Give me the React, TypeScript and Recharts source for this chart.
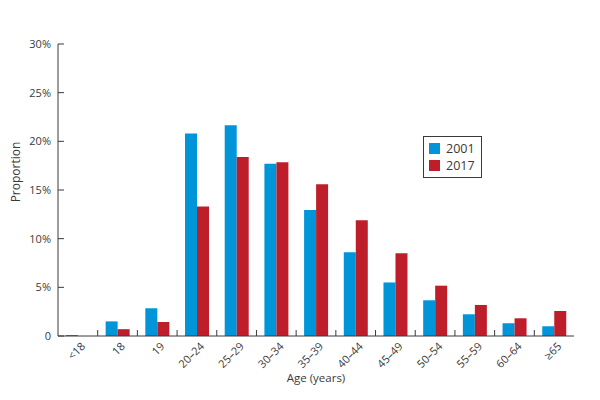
import { BarChart, Bar, XAxis, YAxis, Legend } from "recharts";

const ageGroups = ["<18", "18", "19", "20–24", "25–29", "30–34", "35–39", "40–44", "45–49", "50–54", "55–59", "60–64", "≥65"];
const share2001 = [0.1, 1.5, 2.85, 20.8, 21.65, 17.7, 12.95, 8.6, 5.5, 3.67, 2.23, 1.3, 1.0];
const share2017 = [0, 0.7, 1.44, 13.3, 18.4, 17.85, 15.6, 11.9, 8.5, 5.17, 3.19, 1.82, 2.57];
const yTicks = [0, 5, 10, 15, 20, 25, 30];

const BLUE = "#0095d9";
const RED = "#bd1e2a";
const INK = "#3a3a3a";
const FONT = "'Open Sans', sans-serif";

const data = ageGroups.map((age, i) => ({
  age,
  y2001: share2001[i],
  y2017: share2017[i],
}));

// rotated label plus an upward tick on the right edge of each category
function AgeTick(props: any) {
  const { x, y, payload, index, visibleTicksCount } = props;
  const half = payload.offset ?? 0;
  const last = index === visibleTicksCount - 1;
  const ax = x + 6;
  const ay = y + 9;
  return (
    <g>
      {!last && (
        <line x1={x + half} x2={x + half} y1={y} y2={y - 6} stroke={INK} strokeWidth={1} />
      )}
      <text
        x={ax}
        y={ay}
        textAnchor="end"
        dominantBaseline="middle"
        transform={`rotate(-45, ${ax}, ${ay})`}
        fontSize={11}
        fill={INK}
        fontFamily={FONT}
      >
        {payload.value}
      </text>
    </g>
  );
}

function LegendBox() {
  const items = [
    { label: "2001", color: BLUE },
    { label: "2017", color: RED },
  ];
  return (
    <div
      style={{
        border: `1px solid ${INK}`,
        padding: "3px 6px 3px 5px",
        background: "#fff",
        fontFamily: FONT,
        fontSize: 12.5,
        color: INK,
      }}
    >
      {items.map((it) => (
        <div key={it.label} style={{ display: "flex", alignItems: "center", height: 17 }}>
          <span style={{ width: 11, height: 11, background: it.color, marginRight: 6 }} />
          {it.label}
        </div>
      ))}
    </div>
  );
}

export default function App() {
  return (
    <div style={{ width: 600, height: 400, background: "#fff" }}>
      <style>{`body{margin:0}`}</style>
      <BarChart
        width={600}
        height={400}
        data={data}
        margin={{ top: 44, right: 26, bottom: 0, left: 0 }}
        barCategoryGap="20%"
        barGap={0}
      >
        <XAxis
          dataKey="age"
          interval={0}
          height={64}
          tickSize={0}
          tickMargin={0}
          tickLine={false}
          axisLine={{ stroke: INK }}
          tick={<AgeTick />}
          label={{
            content: (p: any) => (
              <text
                x={p.viewBox.x + p.viewBox.width / 2}
                y={p.viewBox.y + 46}
                textAnchor="middle"
                fontSize={11.5}
                fill={INK}
                fontFamily={FONT}
              >
                Age (years)
              </text>
            ),
          }}
        />
        <YAxis
          width={58}
          domain={[0, 30]}
          ticks={yTicks}
          interval={0}
          tickSize={-6}
          tickMargin={13}
          tickLine={{ stroke: INK }}
          axisLine={{ stroke: INK }}
          tick={{ fontSize: 11, fill: INK, fontFamily: FONT }}
          tickFormatter={(v: number) => (v === 0 ? "0" : `${v}%`)}
          label={{
            content: (p: any) => {
              const cx = p.viewBox.x + 20;
              const cy = p.viewBox.y + p.viewBox.height / 2 - 18;
              return (
                <text
                  x={cx}
                  y={cy}
                  textAnchor="middle"
                  transform={`rotate(-90, ${cx}, ${cy})`}
                  fontSize={12}
                  fill={INK}
                  fontFamily={FONT}
                >
                  Proportion
                </text>
              );
            },
          }}
        />
        <Legend
          layout="vertical"
          align="center"
          verticalAlign="middle"
          content={<LegendBox />}
          wrapperStyle={{ left: 423, top: 136, width: "auto" }}
        />
        <Bar dataKey="y2001" name="2001" fill={BLUE} isAnimationActive={false} />
        <Bar dataKey="y2017" name="2017" fill={RED} isAnimationActive={false} />
      </BarChart>
    </div>
  );
}
